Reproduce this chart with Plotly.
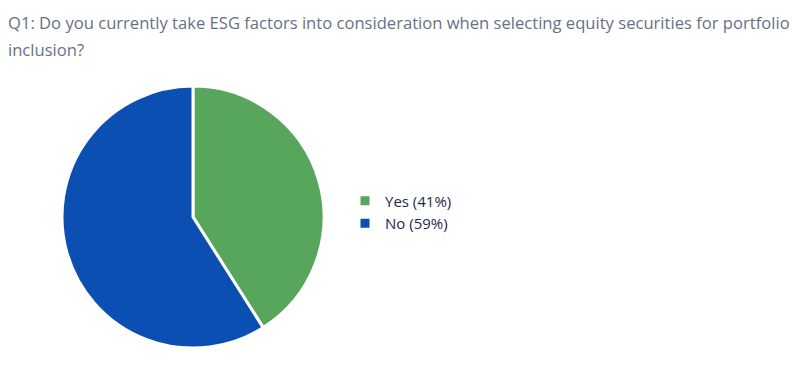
import plotly.graph_objects as go

labels = ["Yes (41%)", "No (59%)"]
values = [41, 59]
colors = ["#58a55c", "#0b4fb3"]
title_lines = [
    "Q1: Do you currently take ESG factors into consideration when selecting equity securities for portfolio",
    "inclusion?",
]

OFF = 8  # page body margin
W, H = 800, 368
cx, cy, r = 193 - OFF, 217 - OFF, 131

fig = go.Figure(go.Pie(
    labels=labels, values=values, sort=False, direction="clockwise", rotation=0,
    marker=dict(colors=colors, line=dict(color="white", width=3)),
    textinfo="none", hoverinfo="label",
    domain=dict(x=[(cx - r) / W, (cx + r) / W], y=[(H - cy - r) / H, (H - cy + r) / H]),
))

for i, line in enumerate(title_lines):
    ycenter = 22 + 28 * i - OFF
    fig.add_annotation(
        text=line, xref="paper", yref="paper", x=0, y=1 - ycenter / H,
        xanchor="left", yanchor="middle", xshift=-2,
        showarrow=False, align="left",
        font=dict(family="Open Sans", size=16.6, color="#677184"),
    )

fig.update_layout(
    width=W, height=H,
    margin=dict(l=0, r=0, t=0, b=0),
    paper_bgcolor="white", plot_bgcolor="white",
    showlegend=True,
    legend=dict(x=(345 - OFF) / W, y=1 - (212 - OFF) / H, xanchor="left", yanchor="middle",
                font=dict(family="Open Sans", size=15, color="#1c2b4a"),
                itemwidth=30),
)

fig.write_html("out.html")
